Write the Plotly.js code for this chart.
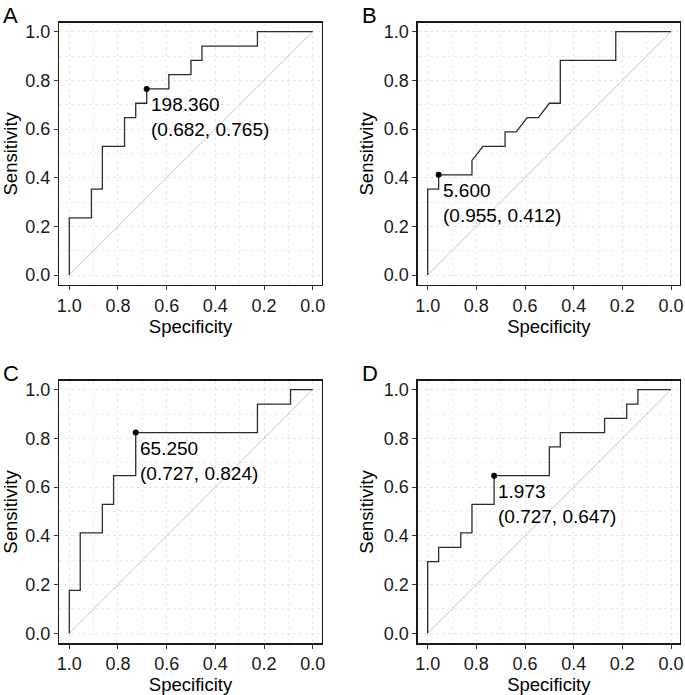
<!DOCTYPE html>
<html>
<head>
<meta charset="utf-8">
<script src="https://cdn.plot.ly/plotly-3.0.1.min.js"></script>
<style>html,body{margin:0;padding:0;background:#fff;}#plot{width:685px;height:695px;}</style>
</head>
<body>
<div id="plot"></div>
<script>
// ROC coordinates (specificity, sensitivity)
const specA = [1, 1, 0.909, 0.909, 0.864, 0.864, 0.773, 0.773, 0.727, 0.727, 0.682, 0.682, 0.591, 0.591, 0.5, 0.5, 0.455, 0.455, 0.227, 0.227, 0];
const sensA = [0, 0.235, 0.235, 0.353, 0.353, 0.529, 0.529, 0.647, 0.647, 0.706, 0.706, 0.765, 0.765, 0.824, 0.824, 0.882, 0.882, 0.941, 0.941, 1, 1];

const specB = [1, 1, 0.955, 0.955, 0.818, 0.818, 0.773, 0.682, 0.682, 0.636, 0.591, 0.545, 0.5, 0.455, 0.455, 0.227, 0.227, 0];
const sensB = [0, 0.353, 0.353, 0.412, 0.412, 0.471, 0.529, 0.529, 0.588, 0.588, 0.647, 0.647, 0.706, 0.706, 0.882, 0.882, 1, 1];

const specC = [1, 1, 0.955, 0.955, 0.864, 0.864, 0.818, 0.818, 0.727, 0.727, 0.227, 0.227, 0.091, 0.091, 0];
const sensC = [0, 0.176, 0.176, 0.412, 0.412, 0.529, 0.529, 0.647, 0.647, 0.824, 0.824, 0.941, 0.941, 1, 1];

const specD = [1, 1, 0.955, 0.955, 0.864, 0.864, 0.818, 0.818, 0.727, 0.727, 0.5, 0.5, 0.455, 0.455, 0.273, 0.273, 0.182, 0.182, 0.136, 0.136, 0];
const sensD = [0, 0.294, 0.294, 0.353, 0.353, 0.412, 0.412, 0.529, 0.529, 0.647, 0.647, 0.765, 0.765, 0.824, 0.824, 0.882, 0.882, 0.941, 0.941, 1, 1];

// Best thresholds
const panelLabels = ["A", "B", "C", "D"];
const bestThreshold = ["198.360", "5.600", "65.250", "1.973"];
const bestSpec = [0.682, 0.955, 0.727, 0.727];
const bestSens = [0.765, 0.412, 0.824, 0.647];

const diagX = [1, 0];
const diagY = [0, 1];

const tickVals = [0, 0.2, 0.4, 0.6, 0.8, 1.0];
const tickText = ["0.0", "0.2", "0.4", "0.6", "0.8", "1.0"];

const specs = [specA, specB, specC, specD];
const senss = [sensA, sensB, sensC, sensD];

const FONT = "Liberation Sans, Arial, sans-serif";
const W = 685, H = 695;
// plot boxes in pixels [left, right, top, bottom]
const boxes = [
  [59.3, 321.7, 22.7, 285],
  [417.7, 680, 22.7, 285],
  [59.3, 321.7, 380.7, 643.3],
  [417.7, 680, 380.7, 643.3]
];

const data = [];
const layout = {
  width: W, height: H,
  margin: {l: 0, r: 0, t: 0, b: 0},
  paper_bgcolor: "#fff", plot_bgcolor: "#fff",
  showlegend: false,
  font: {family: FONT, color: "#000"},
  annotations: []
};

for (let i = 0; i < 4; i++) {
  const sfx = i === 0 ? "" : String(i + 1);
  const xa = "x" + sfx, ya = "y" + sfx;
  const b = boxes[i];
  const grid = {
    showgrid: true, gridcolor: "#e6e6e6", griddash: "dot", gridwidth: 1,
    minor: {dtick: 0.1, showgrid: true, gridcolor: "#ededed", griddash: "dot", gridwidth: 1, ticks: ""},
    zeroline: false,
    showline: true, mirror: true, linecolor: "#1a1a1a", linewidth: 1.3,
    ticks: "outside", ticklen: 4, tickwidth: 1, tickcolor: "#333",
    tickvals: tickVals, ticktext: tickText,
    tickfont: {family: FONT, size: 18, color: "#1a1a1a"},
    automargin: false, fixedrange: true
  };
  layout["xaxis" + sfx] = Object.assign({}, grid, {
    domain: [b[0] / W, b[1] / W],
    anchor: ya,
    range: [1.041, -0.037],
    title: {text: "Specificity", font: {family: FONT, size: 18.5, color: "#000"}, standoff: 3}
  });
  layout["yaxis" + sfx] = Object.assign({}, grid, {
    domain: [1 - b[3] / H, 1 - b[2] / H],
    anchor: xa,
    range: [-0.041, 1.037],
    title: {text: "Sensitivity", font: {family: FONT, size: 18.5, color: "#000"}, standoff: 5}
  });

  data.push({
    x: diagX, y: diagY, xaxis: xa, yaxis: ya, mode: "lines",
    line: {color: "#c4c4c4", width: 1}, hoverinfo: "skip"
  });
  data.push({
    x: specs[i], y: senss[i], xaxis: xa, yaxis: ya, mode: "lines",
    line: {color: "#2b2b2b", width: 1.3}, hoverinfo: "skip"
  });
  data.push({
    x: [bestSpec[i]], y: [bestSens[i]], xaxis: xa, yaxis: ya, mode: "markers",
    marker: {color: "#000", size: 6}, hoverinfo: "skip"
  });

  layout.annotations.push({
    xref: xa, yref: ya, x: bestSpec[i], y: bestSens[i],
    text: bestThreshold[i] + "<br>(" + bestSpec[i].toFixed(3) + ", " + bestSens[i].toFixed(3) + ")",
    showarrow: false, xanchor: "left", yanchor: "top", align: "left",
    xshift: 2, yshift: -3,
    font: {family: FONT, size: 19, color: "#000"}
  });
  layout.annotations.push({
    xref: "paper", yref: "paper",
    x: (b[0] - 58) / W, y: 1 - (b[2] - 22) / H,
    text: panelLabels[i], showarrow: false, xanchor: "left", yanchor: "top",
    font: {family: FONT, size: 22, color: "#000"}
  });
}

Plotly.newPlot("plot", data, layout, {staticPlot: true, displayModeBar: false});
</script>
</body>
</html>
